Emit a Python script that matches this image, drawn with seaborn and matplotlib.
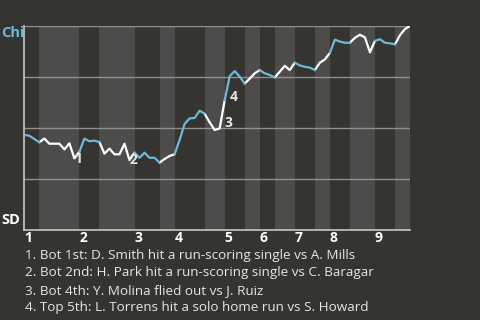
import matplotlib
matplotlib.use("Agg")
import matplotlib.pyplot as plt
import seaborn as sns
import numpy as np
import pandas as pd

# ---- data ----
half_inning_pas = [3, 8, 4, 7, 5, 3, 6, 4, 4, 3, 3, 4, 4, 3, 4, 5, 4, 3]
inning_labels = ["1", "2", "3", "4", "5", "6", "7", "8", "9"]
win_prob = [0.466, 0.462, 0.446, 0.430, 0.448, 0.423, 0.423, 0.423, 0.395, 0.425,
            0.351, 0.384, 0.448, 0.435, 0.438, 0.431, 0.374, 0.399, 0.371, 0.371,
            0.423, 0.343, 0.379, 0.354, 0.379, 0.354, 0.354, 0.330, 0.348, 0.363,
            0.371, 0.441, 0.520, 0.547, 0.549, 0.585, 0.570, 0.528, 0.490, 0.498,
            0.635, 0.754, 0.779, 0.752, 0.718, 0.742, 0.768, 0.784, 0.768, 0.760,
            0.748, 0.776, 0.805, 0.784, 0.820, 0.807, 0.800, 0.796, 0.784, 0.820,
            0.836, 0.868, 0.933, 0.924, 0.918, 0.918, 0.942, 0.957, 0.944, 0.871,
            0.927, 0.935, 0.918, 0.915, 0.910, 0.955, 0.985, 1.000]
event_index = [10, 21, 40, 41]
event_marks = ["1", "2", "3", "4"]
event_texts = [
    "1. Bot 1st: D. Smith hit a run-scoring single vs A. Mills",
    "2. Bot 2nd: H. Park hit a run-scoring single vs C. Baragar",
    "3. Bot 4th: Y. Molina flied out vs J. Ruiz",
    "4. Top 5th: L. Torrens hit a solo home run vs S. Howard",
]
top_team = "Chi"
bottom_team = "SD"

# ---- style ----
BG = "#363430"
BAND = "#4d4c4a"
BLUE = "#6cbad6"
WHITE = "#ffffff"
TXT = "#e6e6e6"

sns.set_style("dark", {"axes.facecolor": BG, "figure.facecolor": BG})
plt.rcParams["font.family"] = ["Open Sans", "DejaVu Sans"]

fig = plt.figure(figsize=(4.8, 3.2), dpi=100, facecolor=BG)
ax = fig.add_axes([24.3 / 480, 1 - 230 / 320, (410 - 24.3) / 480, (230 - 26) / 320])
ax.set_facecolor(BG)

bounds = np.concatenate([[0], np.cumsum(half_inning_pas)])
total = bounds[-1]

# bands for bottom halves
for k in range(len(half_inning_pas)):
    if k % 2 == 1:
        ax.axvspan(bounds[k], bounds[k + 1], color=BAND, lw=0, zorder=0)

for yv in [0.25, 0.5, 0.75, 1.0]:
    ax.axhline(yv, color="#8f8f8f", lw=1.0, zorder=1)

df = pd.DataFrame({"pa": np.arange(len(win_prob)), "wp": win_prob})
for k in range(len(half_inning_pas)):
    seg = df.iloc[bounds[k]:bounds[k + 1] + 1]
    sns.lineplot(data=seg, x="pa", y="wp", color=BLUE if k % 2 == 0 else WHITE,
                 lw=1.6, ax=ax, zorder=3 if k % 2 == 0 else 2)

# event markers
for idx, mark in zip(event_index, event_marks):
    ymid = (win_prob[idx - 1] + win_prob[idx]) / 2
    ax.annotate(mark, (idx, ymid), xytext=(0, -1), textcoords="offset points",
                ha="left", va="top", color=TXT, fontsize=10, fontweight="bold", zorder=4)

ax.set_xlim(0, total)
ax.set_ylim(0, 1)
ax.set_xlabel("")
ax.set_ylabel("")
ax.set_yticks([])
ax.set_xticks(bounds[0:-1:2])
ax.set_xticklabels(inning_labels, ha="left", color=WHITE, fontweight="bold", fontsize=10)
ax.tick_params(axis="x", length=0, pad=0.5)
ax.grid(False)
for s in ["top", "right"]:
    ax.spines[s].set_visible(False)
for s in ["left", "bottom"]:
    ax.spines[s].set_visible(True)
    ax.spines[s].set_color("#c8c8c8")
    ax.spines[s].set_linewidth(1.2)

fig.text(1 / 480, 1 - 33 / 320, top_team, color=BLUE, fontweight="bold", fontsize=10.5,
         ha="left", va="center")
fig.text(1 / 480, 1 - 220 / 320, bottom_team, color=WHITE, fontweight="bold", fontsize=10.5,
         ha="left", va="center")

for j, t in enumerate(event_texts):
    fig.text(25 / 480, 1 - (259 + 17.3 * j) / 320, t, color=TXT, fontsize=9.7,
             ha="left", va="baseline")

fig.savefig("out.png", dpi=100, facecolor=BG)
